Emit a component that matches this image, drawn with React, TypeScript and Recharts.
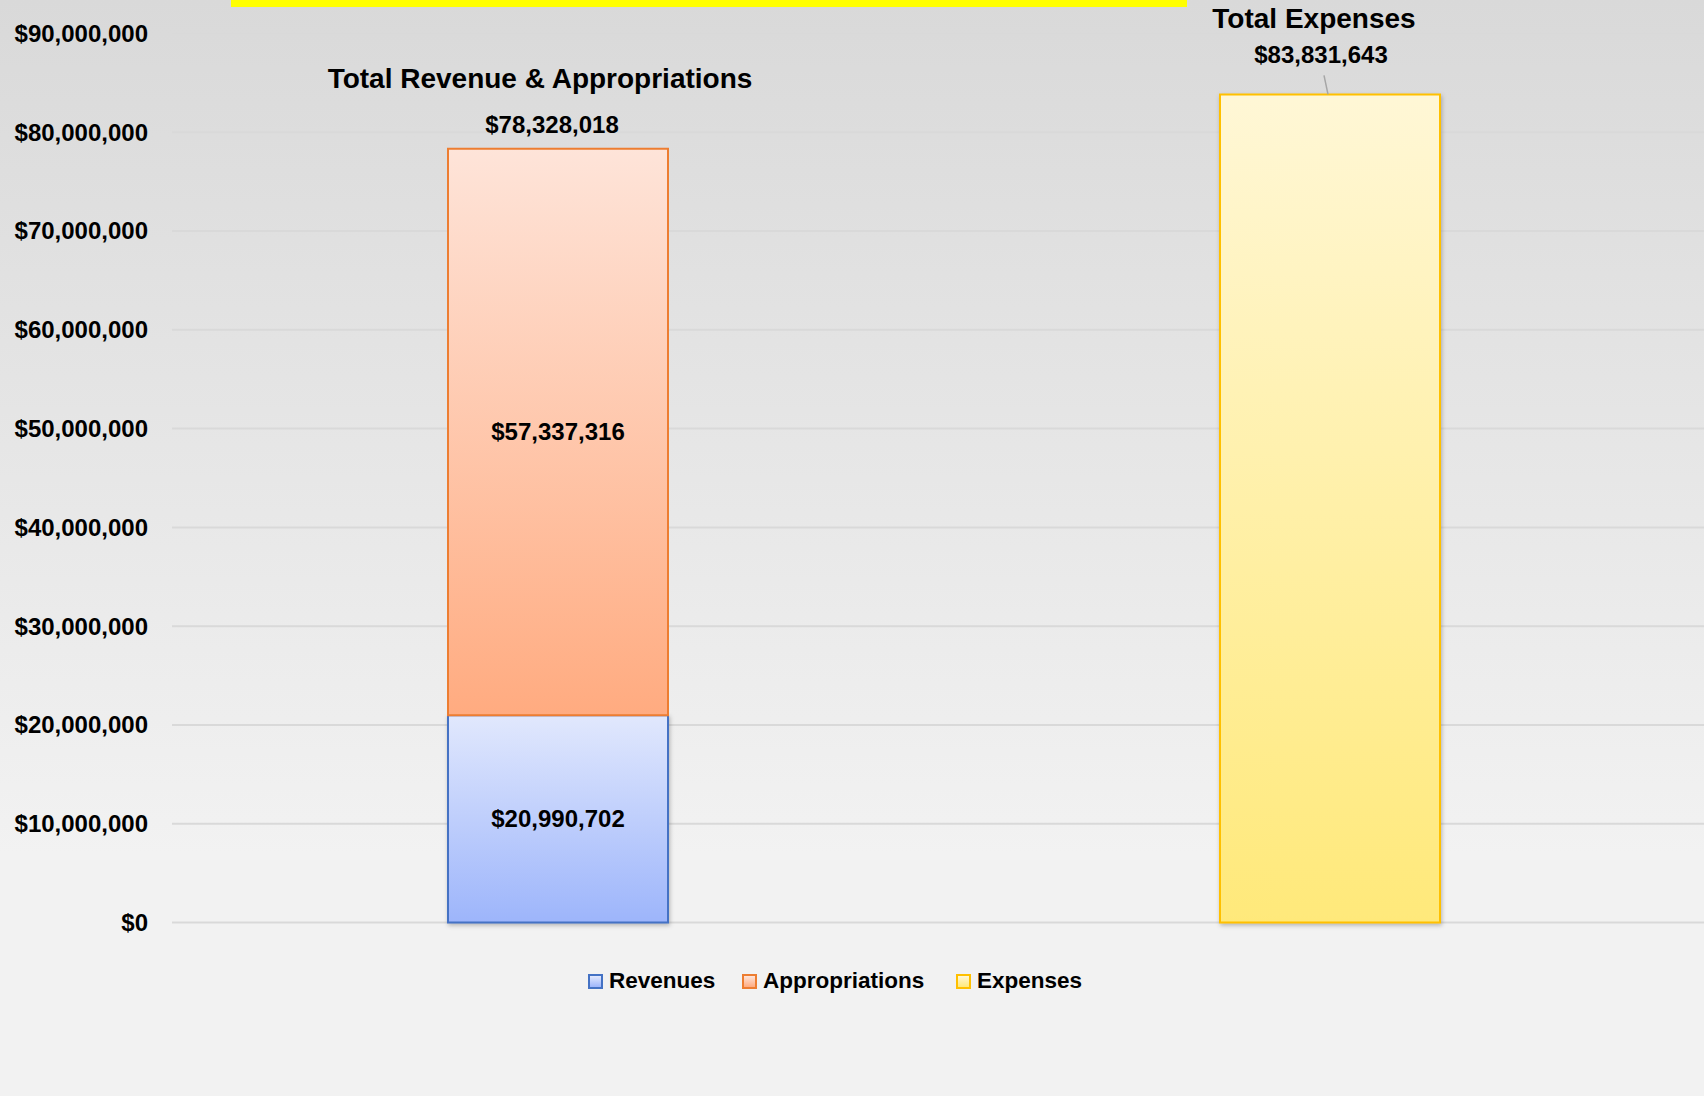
import { Bar, BarChart, CartesianGrid, LabelList, XAxis, YAxis } from "recharts";

const categories = ["Total Revenue & Appropriations", "Total Expenses"];
const revenues = [20990702, null];
const appropriations = [57337316, null];
const expenses = [null, 83831643];
const yTicks = [
  0, 10000000, 20000000, 30000000, 40000000, 50000000, 60000000, 70000000,
  80000000, 90000000,
];

const seriesNames = ["Revenues", "Appropriations", "Expenses"];

const FONT = '"Liberation Sans", Arial, sans-serif';

const data = categories.map((name, i) => ({
  name,
  revenues: revenues[i],
  appropriations: appropriations[i],
  expenses: expenses[i],
}));

function money(v: number) {
  return "$" + Math.round(v).toLocaleString("en-US");
}

function YTick(props: any) {
  const { y, payload } = props;
  return (
    <text
      x={148}
      y={y}
      dy="0.35em"
      textAnchor="end"
      fontFamily={FONT}
      fontWeight="bold"
      fontSize={24}
      fill="#000"
    >
      {money(payload.value)}
    </text>
  );
}

// total + category title above the revenue/appropriations stack
function StackTopLabel(props: any) {
  const { x, y, width, value } = props;
  if (value == null) return null;
  const i = appropriations.indexOf(Number(value));
  if (i < 0) return null;
  const cx = Number(x) + Number(width) / 2;
  const total = (revenues[i] ?? 0) + (appropriations[i] ?? 0);
  return (
    <g fontFamily={FONT} fontWeight="bold" fill="#000">
      <text x={cx - 18} y={y - 71} dy="0.35em" textAnchor="middle" fontSize={28}>
        {categories[i]}
      </text>
      <text x={cx - 6} y={y - 24} dy="0.35em" textAnchor="middle" fontSize={24}>
        {money(total)}
      </text>
    </g>
  );
}

function ExpenseTopLabel(props: any) {
  const { x, y, width, value } = props;
  if (value == null) return null;
  const i = expenses.indexOf(Number(value));
  if (i < 0) return null;
  const cx = Number(x) + Number(width) / 2;
  return (
    <g fontFamily={FONT} fontWeight="bold" fill="#000">
      <text x={cx - 16} y={y - 76} dy="0.35em" textAnchor="middle" fontSize={28}>
        {categories[i]}
      </text>
      <text x={cx - 9} y={y - 40} dy="0.35em" textAnchor="middle" fontSize={24}>
        {money(Number(value))}
      </text>
      <line x1={cx - 6} y1={y - 19} x2={cx - 2} y2={y} stroke="#a6a6a6" strokeWidth={1.5} />
    </g>
  );
}

const legendItems = [
  { name: seriesNames[0], left: 588, border: "#4472c4", from: "#e1e8fd", to: "#9db5fb" },
  { name: seriesNames[1], left: 742, border: "#ed7d31", from: "#fee4d9", to: "#ffab80" },
  { name: seriesNames[2], left: 956, border: "#ffc000", from: "#fff7d6", to: "#ffe97a" },
];

export default function App() {
  return (
    <div
      style={{
        position: "absolute",
        left: 0,
        top: 0,
        width: 1704,
        height: 1096,
        overflow: "hidden",
        background: "linear-gradient(to bottom, #d9d9d9 0%, #f2f2f2 78%, #f2f2f2 100%)",
      }}
    >
      <div
        style={{
          position: "absolute",
          left: 231,
          top: 0,
          width: 956,
          height: 7,
          background: "#ffff00",
        }}
      />
      <BarChart
        width={1716}
        height={1096}
        data={data}
        margin={{ top: 33.5, right: 0, bottom: 173.5, left: 0 }}
        barSize={220}
      >
        <defs>
          <linearGradient id="gRev" x1="0" y1="0" x2="0" y2="1">
            <stop offset="0%" stopColor="#e1e8fd" />
            <stop offset="100%" stopColor="#9db5fb" />
          </linearGradient>
          <linearGradient id="gApp" x1="0" y1="0" x2="0" y2="1">
            <stop offset="0%" stopColor="#fee4d9" />
            <stop offset="100%" stopColor="#ffab80" />
          </linearGradient>
          <linearGradient id="gExp" x1="0" y1="0" x2="0" y2="1">
            <stop offset="0%" stopColor="#fff7d6" />
            <stop offset="100%" stopColor="#ffe97a" />
          </linearGradient>
          <filter id="shadow" x="-10%" y="-10%" width="120%" height="120%">
            <feDropShadow dx="1" dy="2" stdDeviation="2" floodColor="#000" floodOpacity="0.25" />
          </filter>
        </defs>
        <CartesianGrid vertical={false} stroke="#d9d9d9" strokeWidth={2} />
        <XAxis dataKey="name" hide />
        <YAxis
          width={172}
          domain={[0, 90000000]}
          ticks={yTicks}
          axisLine={false}
          tickLine={false}
          tick={<YTick />}
          interval={0}
        />
        <Bar
          dataKey="revenues"
          stackId="a"
          fill="url(#gRev)"
          stroke="#4472c4"
          strokeWidth={2}
          filter="url(#shadow)"
          isAnimationActive={false}
        >
          <LabelList
            dataKey="revenues"
            position="center"
            formatter={(v: any) => (v == null ? "" : money(Number(v)))}
            fill="#000"
            fontFamily={FONT}
            fontWeight="bold"
            fontSize={24}
          />
        </Bar>
        <Bar
          dataKey="appropriations"
          stackId="a"
          fill="url(#gApp)"
          stroke="#ed7d31"
          strokeWidth={2}
          isAnimationActive={false}
        >
          <LabelList
            dataKey="appropriations"
            position="center"
            formatter={(v: any) => (v == null ? "" : money(Number(v)))}
            fill="#000"
            fontFamily={FONT}
            fontWeight="bold"
            fontSize={24}
          />
          <LabelList dataKey="appropriations" content={<StackTopLabel />} />
        </Bar>
        <Bar
          dataKey="expenses"
          stackId="a"
          fill="url(#gExp)"
          stroke="#ffc000"
          strokeWidth={2}
          filter="url(#shadow)"
          isAnimationActive={false}
        >
          <LabelList dataKey="expenses" content={<ExpenseTopLabel />} />
        </Bar>
      </BarChart>
      {legendItems.map((item) => (
        <div
          key={item.name}
          style={{
            position: "absolute",
            left: item.left,
            top: 967,
            height: 28,
            display: "flex",
            alignItems: "center",
            fontFamily: FONT,
            fontWeight: "bold",
            fontSize: 22.5,
            color: "#000",
            whiteSpace: "nowrap",
          }}
        >
          <span
            style={{
              display: "inline-block",
              boxSizing: "border-box",
              width: 15,
              height: 15,
              border: `2px solid ${item.border}`,
              background: `linear-gradient(to bottom, ${item.from}, ${item.to})`,
              marginRight: 6,
            }}
          />
          <span>{item.name}</span>
        </div>
      ))}
    </div>
  );
}
